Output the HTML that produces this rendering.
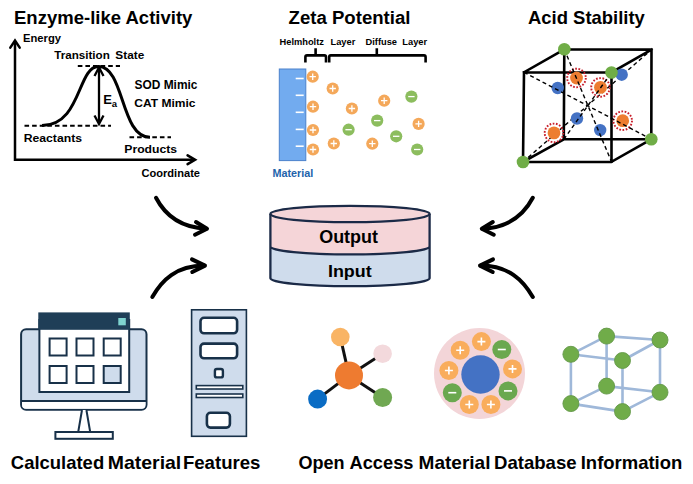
<!DOCTYPE html>
<html><head><meta charset="utf-8"><style>
html,body{margin:0;padding:0;background:#fff;}
svg{display:block;}
text{font-family:"Liberation Sans",sans-serif;font-weight:bold;}
</style></head><body>
<svg width="693" height="484" viewBox="0 0 693 484" >
<rect width="693" height="484" fill="#fff"/>
<text transform="translate(14.00,24) scale(1.0123,1)" font-size="18.3" fill="#000">Enzyme-like Activity</text>
<text transform="translate(288.54,24) scale(1.0168,1)" font-size="18.3" fill="#000">Zeta Potential</text>
<text transform="translate(527.95,24) scale(1.0088,1)" font-size="18.3" fill="#000">Acid Stability</text>
<path d="M15,41 V159.8 H194.5" fill="none" stroke="#000" stroke-width="2.5"/>
<path d="M10.3,47.6 L15,40.6 L19.7,47.6" fill="none" stroke="#000" stroke-width="2.5" stroke-linecap="round"/>
<path d="M187.6,155.4 L195,159.8 L187.6,164.2" fill="none" stroke="#000" stroke-width="2.6" stroke-linecap="round"/>
<path d="M24.5,125.7 H111" stroke="#000" stroke-width="2" stroke-dasharray="4.6,3"/>
<path d="M77.8,66 H120" stroke="#000" stroke-width="2" stroke-dasharray="4.6,3"/>
<path d="M129.5,137.3 H171" stroke="#000" stroke-width="2" stroke-dasharray="4.6,3"/>
<path d="M42,125.5 C81.3,125.5 77.4,66.5 98.5,66.5 C124.7,66.5 120.3,137.3 150,137.3" fill="none" stroke="#000" stroke-width="3"/>
<path d="M99,68 V123" stroke="#000" stroke-width="2.3"/>
<path d="M94.5,76 L99,67.5 L103.5,76 M94.5,115.5 L99,124 L103.5,115.5" fill="none" stroke="#000" stroke-width="2.3"/>
<text x="103.2" y="103.6" font-size="13" fill="#000" >E</text>
<text x="111.8" y="106.5" font-size="9.5" fill="#000" >a</text>
<text transform="translate(22.96,42.2) scale(0.9932,1)" font-size="11.3" fill="#000">Energy</text>
<text transform="translate(54.18,59.1) scale(1.0136,1)" font-size="11.5" fill="#000">Transition</text>
<text transform="translate(115.35,59.1) scale(1.0267,1)" font-size="11.5" fill="#000">State</text>
<text transform="translate(134.44,88.7) scale(0.9962,1)" font-size="12" fill="#000">SOD Mimic</text>
<text transform="translate(134.32,106.9) scale(1.0372,1)" font-size="11.6" fill="#000">CAT Mimic</text>
<text transform="translate(23.64,141.8) scale(1.1115,1)" font-size="11" fill="#000">Reactants</text>
<text transform="translate(124.25,153.4) scale(1.0705,1)" font-size="11.4" fill="#000">Products</text>
<text transform="translate(141.46,176.8) scale(1.0568,1)" font-size="10.5" fill="#000">Coordinate</text>
<text x="279.5" y="44.9" font-size="9.3" fill="#000" >Helmholtz</text>
<text x="330.5" y="44.9" font-size="9.3" fill="#000" >Layer</text>
<text x="365.5" y="44.9" font-size="9.3" fill="#000" >Diffuse</text>
<text x="402.3" y="44.9" font-size="9.3" fill="#000" >Layer</text>
<path d="M305.4,62.6 V57 Q305.4,55.4 307,55.4 H315.6 V48.3 M315.6,55.4 H324.4 Q326,55.4 326,57 V62.6" fill="none" stroke="#000" stroke-width="2.6"/>
<path d="M329.2,62.6 V57 Q329.2,55.4 330.8,55.4 H376.8 V48.3 M376.8,55.4 H424 Q425.6,55.4 425.6,57 V62.6" fill="none" stroke="#000" stroke-width="2.6"/>
<rect x="279.3" y="69" width="26.5" height="91.6" fill="#72abef" stroke="#4c82cc" stroke-width="1"/>
<path d="M295.7,78.5 H303.7" stroke="#fff" stroke-width="1.6"/>
<path d="M295.7,95.3 H303.7" stroke="#fff" stroke-width="1.6"/>
<path d="M295.7,112.3 H303.7" stroke="#fff" stroke-width="1.6"/>
<path d="M295.7,129.4 H303.7" stroke="#fff" stroke-width="1.6"/>
<path d="M295.7,146.2 H303.7" stroke="#fff" stroke-width="1.6"/>
<circle cx="312.7" cy="76.7" r="6.1" fill="#f4a85a"/>
<path d="M309.5,76.7 H315.9 M312.7,73.5 V79.9" stroke="#fff" stroke-width="1.3"/>
<circle cx="313" cy="106.7" r="6.1" fill="#f4a85a"/>
<path d="M309.8,106.7 H316.2 M313,103.5 V109.9" stroke="#fff" stroke-width="1.3"/>
<circle cx="313" cy="130" r="6.1" fill="#f4a85a"/>
<path d="M309.8,130 H316.2 M313,126.8 V133.2" stroke="#fff" stroke-width="1.3"/>
<circle cx="313" cy="149.5" r="6.1" fill="#f4a85a"/>
<path d="M309.8,149.5 H316.2 M313,146.3 V152.7" stroke="#fff" stroke-width="1.3"/>
<circle cx="332.7" cy="88.5" r="6.1" fill="#f4a85a"/>
<path d="M329.5,88.5 H335.9 M332.7,85.3 V91.7" stroke="#fff" stroke-width="1.3"/>
<circle cx="333.8" cy="143.5" r="6.1" fill="#f4a85a"/>
<path d="M330.6,143.5 H337.0 M333.8,140.3 V146.7" stroke="#fff" stroke-width="1.3"/>
<circle cx="351.9" cy="108.5" r="6.1" fill="#f4a85a"/>
<path d="M348.7,108.5 H355.09999999999997 M351.9,105.3 V111.7" stroke="#fff" stroke-width="1.3"/>
<circle cx="384.2" cy="100.7" r="6.1" fill="#f4a85a"/>
<path d="M381.0,100.7 H387.4 M384.2,97.5 V103.9" stroke="#fff" stroke-width="1.3"/>
<circle cx="418.6" cy="123.9" r="6.1" fill="#f4a85a"/>
<path d="M415.40000000000003,123.9 H421.8 M418.6,120.7 V127.10000000000001" stroke="#fff" stroke-width="1.3"/>
<circle cx="372.3" cy="143.7" r="6.1" fill="#f4a85a"/>
<path d="M369.1,143.7 H375.5 M372.3,140.5 V146.89999999999998" stroke="#fff" stroke-width="1.3"/>
<circle cx="411.4" cy="96.6" r="6.1" fill="#8cbd5e"/>
<path d="M408.2,96.6 H414.59999999999997" stroke="#fff" stroke-width="1.3"/>
<circle cx="377.2" cy="120.6" r="6.1" fill="#8cbd5e"/>
<path d="M374.0,120.6 H380.4" stroke="#fff" stroke-width="1.3"/>
<circle cx="348.6" cy="129.7" r="6.1" fill="#8cbd5e"/>
<path d="M345.40000000000003,129.7 H351.8" stroke="#fff" stroke-width="1.3"/>
<circle cx="396.2" cy="136.3" r="6.1" fill="#8cbd5e"/>
<path d="M393.0,136.3 H399.4" stroke="#fff" stroke-width="1.3"/>
<circle cx="417.2" cy="149.5" r="6.1" fill="#8cbd5e"/>
<path d="M414.0,149.5 H420.4" stroke="#fff" stroke-width="1.3"/>
<text x="272.5" y="176.8" font-size="10.8" fill="#2363ab" >Material</text>
<path d="M523,162 L651.5,49.6" stroke="#000" stroke-width="1.4" stroke-dasharray="4,3"/>
<path d="M524,72.3 L611.5,72.5 M611.5,72.5 L611.5,161.8 M611.5,161.8 L523,162 M523,162 L524,72.3 M564.3,49.3 L651.5,49.6 M651.5,49.6 L651.3,139.2 M651.3,139.2 L563.8,139.3 M563.8,139.3 L564.3,49.3 M524,72.3 L564.3,49.3 M611.5,72.5 L651.5,49.6 M523,162 L563.8,139.3 M611.5,161.8 L651.3,139.2" stroke="#000" stroke-width="2.6" stroke-linecap="square"/>
<circle cx="557.7" cy="88" r="6.2" fill="#4472c4"/>
<circle cx="577" cy="118.5" r="6.2" fill="#4472c4"/>
<circle cx="600.2" cy="130.1" r="6.2" fill="#4472c4"/>
<circle cx="621.7" cy="74.7" r="6.2" fill="#4472c4"/>
<circle cx="576.5" cy="78" r="6.4" fill="#ed7d31"/>
<circle cx="576.5" cy="78" r="9.3" fill="none" stroke="#c81e2a" stroke-width="1.9" stroke-dasharray="1.7,1.55"/>
<circle cx="600.5" cy="87.4" r="6.4" fill="#ed7d31"/>
<circle cx="600.5" cy="87.4" r="9.3" fill="none" stroke="#c81e2a" stroke-width="1.9" stroke-dasharray="1.7,1.55"/>
<circle cx="554" cy="132.9" r="6.4" fill="#ed7d31"/>
<circle cx="554" cy="132.9" r="9.3" fill="none" stroke="#c81e2a" stroke-width="1.9" stroke-dasharray="1.7,1.55"/>
<circle cx="622.7" cy="120.7" r="6.4" fill="#ed7d31"/>
<circle cx="622.7" cy="120.7" r="9.3" fill="none" stroke="#c81e2a" stroke-width="1.9" stroke-dasharray="1.7,1.55"/>
<path d="M524,72.3 L651.3,139.2" stroke="#000" stroke-width="1.4" stroke-dasharray="4,3"/>
<path d="M564.3,49.3 L611.5,161.8" stroke="#000" stroke-width="1.4" stroke-dasharray="4,3"/>
<path d="M563.8,139.3 L611.5,72.5" stroke="#000" stroke-width="1.4" stroke-dasharray="4,3"/>
<circle cx="564.3" cy="49.3" r="6.3" fill="#70ad47"/>
<circle cx="611.5" cy="72.5" r="6.3" fill="#70ad47"/>
<circle cx="523" cy="162" r="6.3" fill="#70ad47"/>
<circle cx="651.3" cy="139.2" r="6.3" fill="#70ad47"/>
<path d="M156,197.8 C165,215 180,227.5 206,228.7" fill="none" stroke="#000" stroke-width="4" stroke-linecap="round"/>
<path d="M196,222 L207,228.7 L195,234.7" fill="none" stroke="#000" stroke-width="4" stroke-linecap="round" stroke-linejoin="round"/>
<path d="M152.3,297 C162,280 176,266 204,265.6" fill="none" stroke="#000" stroke-width="4" stroke-linecap="round"/>
<path d="M192,259.4 L205,265.6 L192.3,272" fill="none" stroke="#000" stroke-width="4" stroke-linecap="round" stroke-linejoin="round"/>
<path d="M532.8,197.8 C523.8,215 508.8,227.5 482.8,228.7" fill="none" stroke="#000" stroke-width="4" stroke-linecap="round"/>
<path d="M492.8,222 L481.8,228.7 L493.8,234.7" fill="none" stroke="#000" stroke-width="4" stroke-linecap="round" stroke-linejoin="round"/>
<path d="M532.8,297 C523,280 509,266 481,265.6" fill="none" stroke="#000" stroke-width="4" stroke-linecap="round"/>
<path d="M493,259.4 L480,265.6 L492.7,272" fill="none" stroke="#000" stroke-width="4" stroke-linecap="round" stroke-linejoin="round"/>
<path d="M270.4,214 V278.2 A79.6,8 0 0 0 429.6,278.2 V214" fill="#cfdcec" stroke="none"/>
<path d="M270.4,214 V246.4 A79.6,8 0 0 0 429.6,246.4 V214 Z" fill="#f5d5d8"/>
<ellipse cx="350" cy="214" rx="79.6" ry="8.2" fill="#f5d5d8" stroke="#1b2a47" stroke-width="2.3"/>
<path d="M270.4,214 V278.2 A79.6,8 0 0 0 429.6,278.2 V214 M270.4,246.4 A79.6,8 0 0 0 429.6,246.4" fill="none" stroke="#1b2a47" stroke-width="2.3"/>
<text transform="translate(319.18,243.1) scale(1.0199,1)" font-size="17.6" fill="#000">Output</text>
<text transform="translate(327.95,276.8) scale(1.0301,1)" font-size="17.4" fill="#000">Input</text>
<rect x="21.1" y="329.3" width="125.4" height="80.4" rx="5" fill="#cfdcec" stroke="#183149" stroke-width="2"/>
<path d="M22,401 H145.5 V404.7 Q145.5,408.7 141.5,408.7 H26 Q22,408.7 22,404.7 Z" fill="#fff"/>
<path d="M21.1,401 H146.5" stroke="#183149" stroke-width="2"/>
<rect x="39.4" y="320" width="89.8" height="72" fill="#fff" stroke="#183149" stroke-width="2"/>
<rect x="38.3" y="312.4" width="91.5" height="17.4" fill="#1f3e57"/>
<rect x="118.3" y="318" width="7.5" height="7.3" fill="#7fd3cf"/>
<rect x="49.6" y="338.5" width="17" height="17" fill="#fff" stroke="#183149" stroke-width="2"/>
<rect x="49.6" y="366" width="17" height="17" fill="#fff" stroke="#183149" stroke-width="2"/>
<rect x="76.5" y="338.5" width="17" height="17" fill="#fff" stroke="#183149" stroke-width="2"/>
<rect x="76.5" y="366" width="17" height="17" fill="#fff" stroke="#183149" stroke-width="2"/>
<rect x="103.7" y="338.5" width="17" height="17" fill="#fff" stroke="#183149" stroke-width="2"/>
<rect x="103.7" y="366" width="17" height="17" fill="#cfdcec" stroke="#183149" stroke-width="2"/>
<path d="M82,410 L78.2,432 H90.2 L86.4,410" fill="#fff" stroke="#183149" stroke-width="2" stroke-linejoin="miter"/>
<rect x="55.4" y="432" width="57.4" height="6.8" fill="#fff" stroke="#183149" stroke-width="2"/>
<rect x="191.6" y="309.8" width="54.8" height="126.5" fill="#cfdcec" stroke="#183149" stroke-width="1.6"/>
<rect x="200.5" y="317.8" width="36.6" height="15.5" rx="3.5" fill="#fff" stroke="#183149" stroke-width="2.6"/>
<rect x="200.5" y="343.6" width="36.6" height="14.7" rx="3.5" fill="#fff" stroke="#183149" stroke-width="2.6"/>
<rect x="214.9" y="369" width="8" height="8.4" rx="2" fill="#fff" stroke="#183149" stroke-width="2.4"/>
<rect x="196.3" y="385.6" width="46.5" height="3.4" fill="#fff" stroke="#183149" stroke-width="1.6"/>
<rect x="196.3" y="394" width="46.5" height="3.5" fill="#fff" stroke="#183149" stroke-width="1.6"/>
<rect x="206.9" y="412.8" width="23" height="14.8" rx="3.5" fill="#fff" stroke="#183149" stroke-width="2.6"/>
<path d="M349,375.4 L340.3,337" stroke="#111" stroke-width="3"/>
<path d="M349,375.4 L382.6,353.7" stroke="#111" stroke-width="3"/>
<path d="M349,375.4 L317.6,399.1" stroke="#111" stroke-width="3"/>
<path d="M349,375.4 L382.6,397.5" stroke="#111" stroke-width="3"/>
<circle cx="349" cy="375.4" r="14" fill="#ee7b30"/>
<circle cx="340.3" cy="337" r="9.3" fill="#f9b464"/>
<circle cx="382.6" cy="353.7" r="9.3" fill="#f3d9dc"/>
<circle cx="317.6" cy="399.1" r="9.5" fill="#0a6cc4"/>
<circle cx="382.6" cy="397.5" r="9.5" fill="#70a852"/>
<circle cx="479.5" cy="373.5" r="45.5" fill="#f3d5d8"/>
<circle cx="480.5" cy="374.5" r="19.2" fill="#4472c4"/>
<circle cx="481.4" cy="341.6" r="9.5" fill="#f9ad5c"/>
<path d="M477.4,341.6 H485.4 M481.4,337.6 V345.6" stroke="#fff" stroke-width="1.6"/>
<circle cx="460.2" cy="350.2" r="9.5" fill="#f9ad5c"/>
<path d="M456.2,350.2 H464.2 M460.2,346.2 V354.2" stroke="#fff" stroke-width="1.6"/>
<circle cx="448.9" cy="370.5" r="9.5" fill="#f9ad5c"/>
<path d="M444.9,370.5 H452.9 M448.9,366.5 V374.5" stroke="#fff" stroke-width="1.6"/>
<circle cx="512.5" cy="368.9" r="9.5" fill="#f9ad5c"/>
<path d="M508.5,368.9 H516.5 M512.5,364.9 V372.9" stroke="#fff" stroke-width="1.6"/>
<circle cx="469.3" cy="404.5" r="9.5" fill="#f9ad5c"/>
<path d="M465.3,404.5 H473.3 M469.3,400.5 V408.5" stroke="#fff" stroke-width="1.6"/>
<circle cx="490.9" cy="404.5" r="9.5" fill="#f9ad5c"/>
<path d="M486.9,404.5 H494.9 M490.9,400.5 V408.5" stroke="#fff" stroke-width="1.6"/>
<circle cx="501.8" cy="349.5" r="9.5" fill="#6aa84f"/>
<path d="M497.8,349.5 H505.8" stroke="#fff" stroke-width="1.6"/>
<circle cx="452.3" cy="392.7" r="9.5" fill="#6aa84f"/>
<path d="M448.3,392.7 H456.3" stroke="#fff" stroke-width="1.6"/>
<circle cx="508" cy="390.9" r="9.5" fill="#6aa84f"/>
<path d="M504,390.9 H512" stroke="#fff" stroke-width="1.6"/>
<path d="M606.6,336.1 L660,340 M606.6,336.1 L570.9,354.3 M606.6,336.1 L606.6,386.1 M660,340 L622.5,360.5 M660,340 L660,392.3 M570.9,354.3 L622.5,360.5 M570.9,354.3 L570.9,403.6 M622.5,360.5 L622.5,411.6 M606.6,386.1 L660,392.3 M606.6,386.1 L570.9,403.6 M660,392.3 L622.5,411.6 M570.9,403.6 L622.5,411.6" stroke="#9fb8d9" stroke-width="2.6"/>
<circle cx="606.6" cy="336.1" r="8" fill="#70ac49" stroke="#64984a" stroke-width="0.9"/>
<circle cx="660" cy="340" r="8" fill="#70ac49" stroke="#64984a" stroke-width="0.9"/>
<circle cx="570.9" cy="354.3" r="8" fill="#70ac49" stroke="#64984a" stroke-width="0.9"/>
<circle cx="622.5" cy="360.5" r="8" fill="#70ac49" stroke="#64984a" stroke-width="0.9"/>
<circle cx="606.6" cy="386.1" r="8" fill="#70ac49" stroke="#64984a" stroke-width="0.9"/>
<circle cx="660" cy="392.3" r="8" fill="#70ac49" stroke="#64984a" stroke-width="0.9"/>
<circle cx="570.9" cy="403.6" r="8" fill="#70ac49" stroke="#64984a" stroke-width="0.9"/>
<circle cx="622.5" cy="411.6" r="8" fill="#70ac49" stroke="#64984a" stroke-width="0.9"/>
<text transform="translate(10.86,469) scale(1.0079,1)" font-size="18.3" fill="#000">Calculated</text>
<text transform="translate(107.74,469) scale(1.0644,1)" font-size="18.3" fill="#000">Material</text>
<text transform="translate(182.90,469) scale(1.0175,1)" font-size="18.3" fill="#000">Features</text>
<text transform="translate(298.48,468.8) scale(0.9913,1)" font-size="18.2" fill="#000">Open</text>
<text transform="translate(349.45,468.8) scale(1.0044,1)" font-size="18.2" fill="#000">Access</text>
<text transform="translate(418.57,468.8) scale(1.0446,1)" font-size="18.2" fill="#000">Material</text>
<text transform="translate(494.00,468.8) scale(1.0217,1)" font-size="18.2" fill="#000">Database</text>
<text transform="translate(580.71,468.8) scale(1.0160,1)" font-size="18.2" fill="#000">Information</text>
</svg>
</body></html>
